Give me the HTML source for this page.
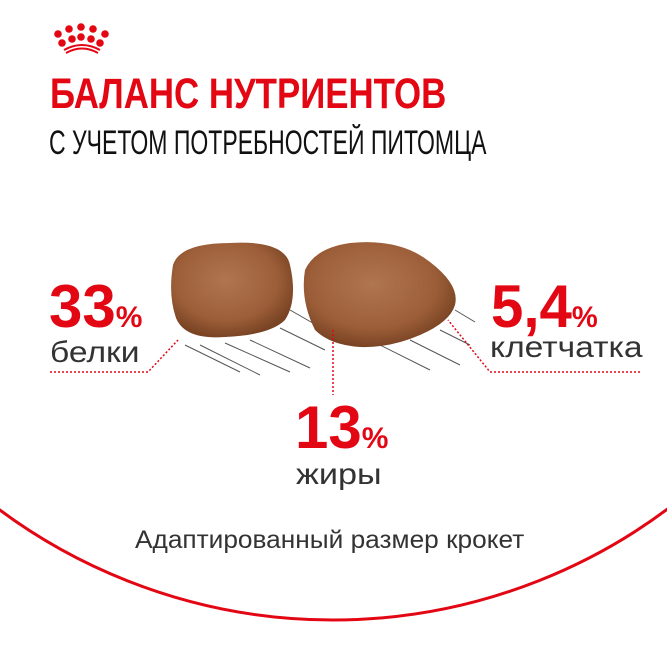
<!DOCTYPE html>
<html><head><meta charset="utf-8"><style>
body{margin:0;width:667px;height:667px;background:#fff;overflow:hidden;position:relative;font-family:"Liberation Sans",sans-serif}
.t{position:absolute;white-space:nowrap;transform-origin:0 0}
</style></head><body>
<svg width="667" height="667" style="position:absolute;left:0;top:0">
<defs>
<radialGradient id="k" cx="45%" cy="40%" r="60%"><stop offset="0" stop-color="#b07650"/><stop offset="0.7" stop-color="#9c5e38"/><stop offset="1" stop-color="#7a4424"/></radialGradient>
</defs>
<g fill="#e30613">
<circle cx="58" cy="34" r="3.8"/><circle cx="69" cy="29" r="3.8"/><circle cx="81" cy="27" r="3.8"/><circle cx="93" cy="29" r="3.8"/><circle cx="105" cy="34" r="3.8"/>
<circle cx="62" cy="43" r="3.8"/><circle cx="72" cy="39" r="3.8"/><circle cx="81" cy="37" r="3.8"/><circle cx="91" cy="39" r="3.8"/><circle cx="100" cy="43" r="3.8"/>
</g>
<path d="M64 50 Q82 40 100 50 M66 53 Q82 44 98 53" stroke="#e30613" stroke-width="2" fill="none"/>
<g stroke="#555" stroke-width="1">
<line x1="185" y1="345" x2="240" y2="372"/><line x1="200" y1="345" x2="260" y2="375"/><line x1="225" y1="343" x2="290" y2="372"/><line x1="250" y1="340" x2="310" y2="368"/><line x1="280" y1="328" x2="325" y2="350"/><line x1="290" y1="310" x2="325" y2="330"/>
<line x1="380" y1="345" x2="430" y2="370"/><line x1="410" y1="340" x2="460" y2="365"/><line x1="440" y1="330" x2="470" y2="345"/><line x1="455" y1="310" x2="475" y2="322"/>
</g>
<path d="M173 265 Q180 243 230 243 Q285 240 290 265 Q298 300 285 320 Q270 335 225 337 Q185 340 176 318 Q168 295 173 265Z" fill="url(#k)"/>
<path d="M305 270 Q315 248 350 243 Q400 238 430 262 Q460 285 455 305 Q450 322 420 335 Q390 348 360 347 Q330 345 315 330 Q300 300 305 270Z" fill="url(#k)"/>
<g stroke="#e30613" stroke-width="1.5" stroke-dasharray="2,2" fill="none">
<polyline points="50,372 148,372 178,340"/>
<polyline points="640,372 490,372 448,320"/>
<line x1="333" y1="330" x2="333" y2="395"/>
</g>
<circle cx="333" cy="61" r="559" fill="none" stroke="#e30613" stroke-width="3"/>
</svg>
<div class="t" style="left:50px;top:70px;font-size:43px;font-weight:bold;color:#e30613;transform:scaleX(0.81)">БАЛАНС НУТРИЕНТОВ</div>
<div class="t" style="left:49px;top:124px;font-size:34px;color:#111;transform:scaleX(0.677)">С УЧЕТОМ ПОТРЕБНОСТЕЙ ПИТОМЦА</div>
<div class="t" style="left:49px;top:272px;font-size:60px;font-weight:bold;color:#e30613">33<span style="font-size:30px">%</span></div>
<div class="t" style="left:50px;top:336px;font-size:30px;color:#333;transform:scaleX(1.12)">белки</div>
<div class="t" style="left:491px;top:272px;font-size:60px;font-weight:bold;color:#e30613;transform:scaleX(0.97)">5,4<span style="font-size:30px">%</span></div>
<div class="t" style="left:490px;top:331px;font-size:30px;color:#333;transform:scaleX(1.12)">клетчатка</div>
<div class="t" style="left:295px;top:393px;font-size:60px;font-weight:bold;color:#e30613">13<span style="font-size:30px">%</span></div>
<div class="t" style="left:296px;top:458px;font-size:30px;color:#333;transform:scaleX(1.14)">жиры</div>
<div class="t" style="left:135px;top:526px;font-size:25px;color:#333;transform:scaleX(1.05)">Адаптированный размер крокет</div>
</body></html>
